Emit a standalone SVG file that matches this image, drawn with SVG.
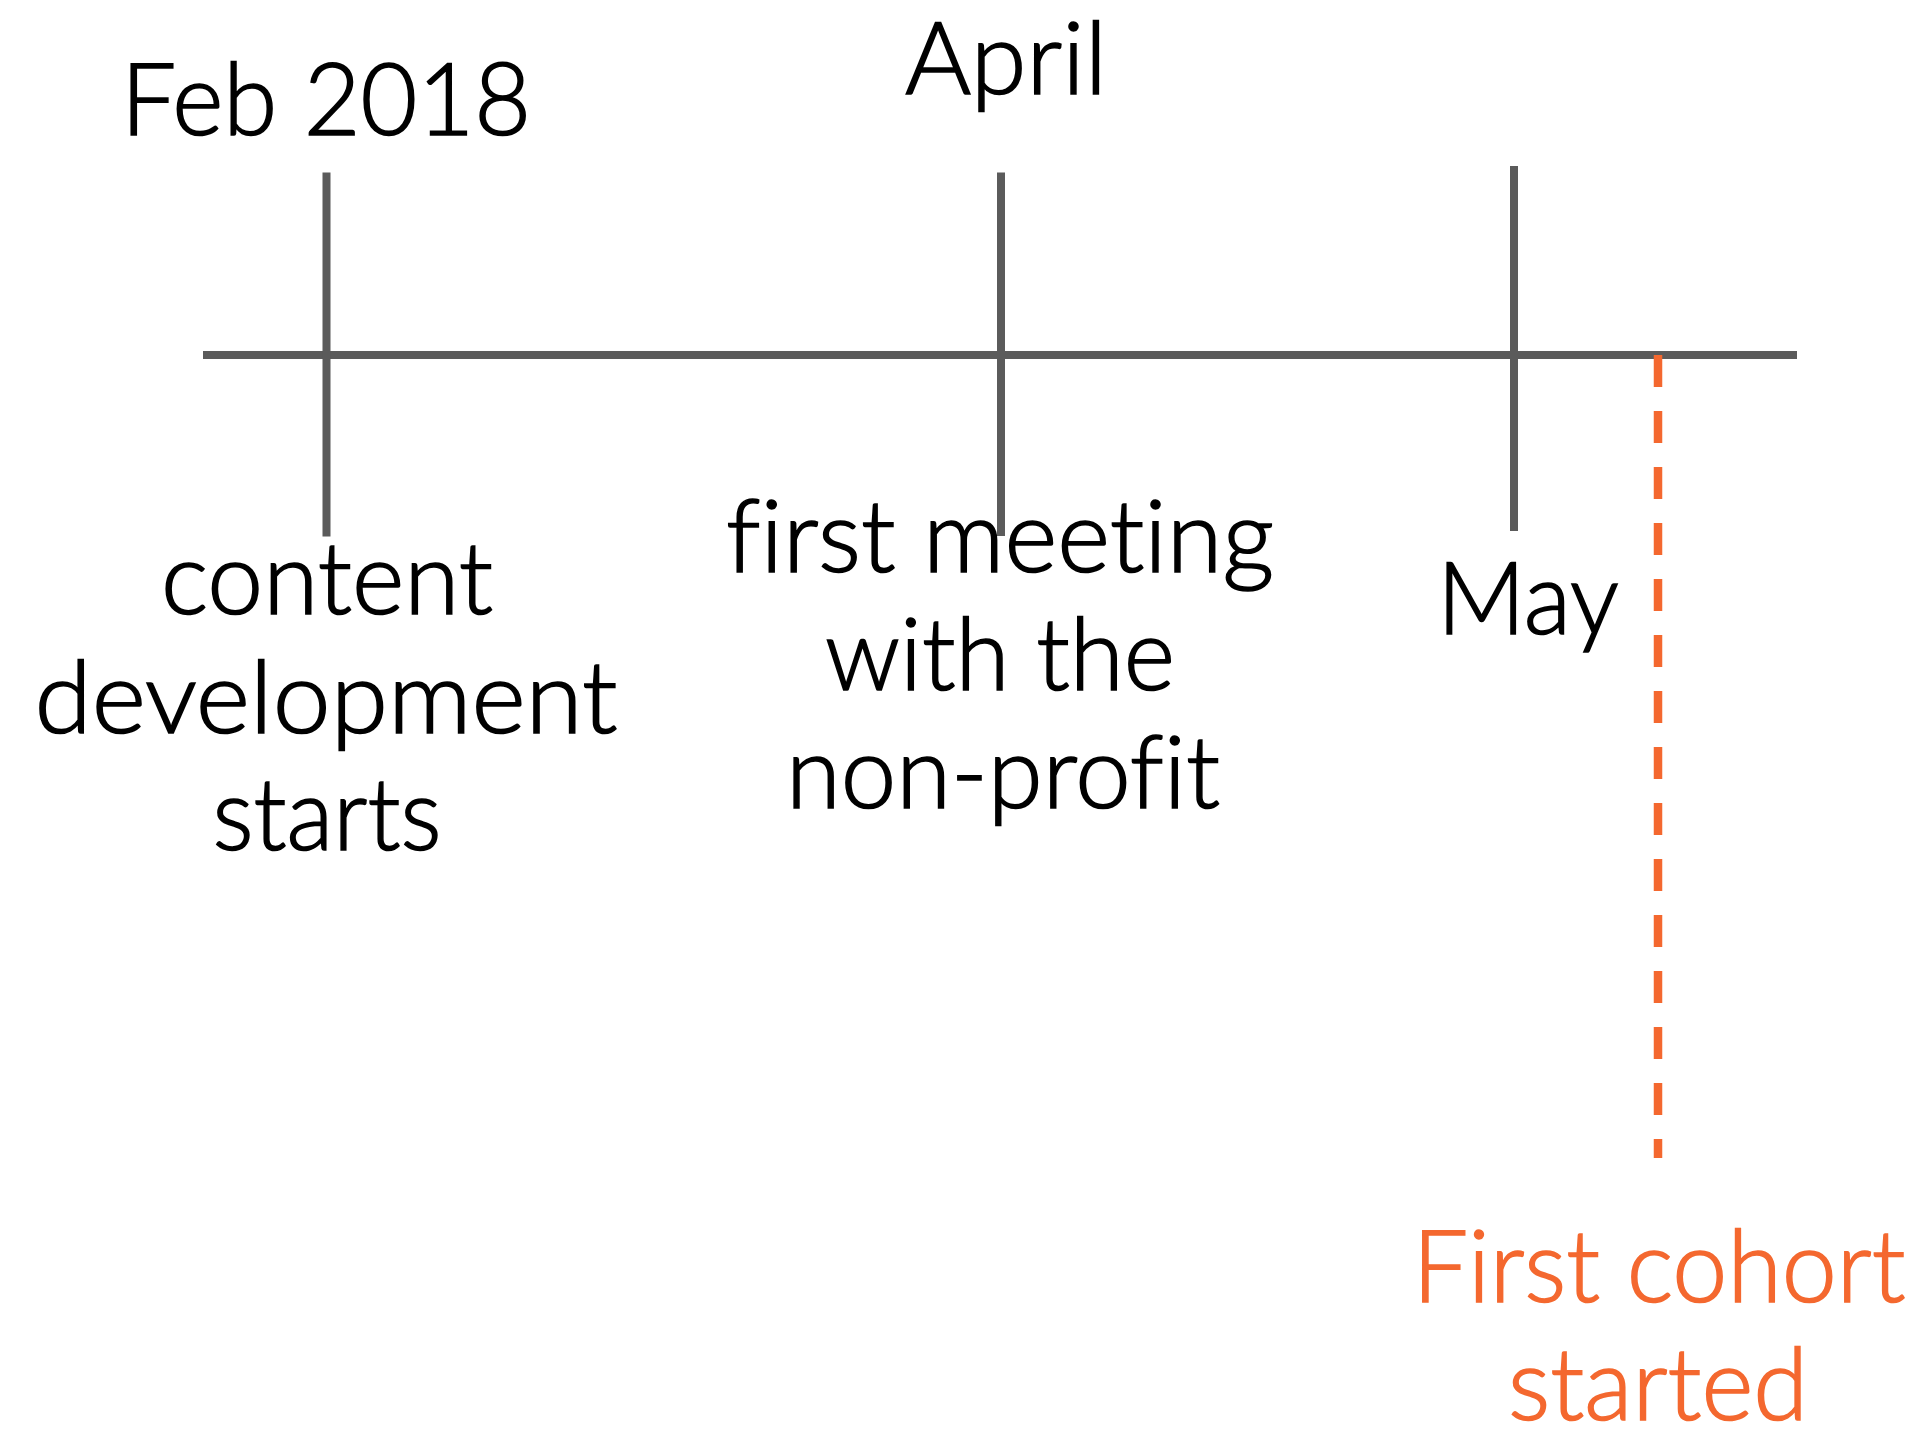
<svg xmlns="http://www.w3.org/2000/svg" width="1926" height="1434" viewBox="0 0 1926 1434">
<style>
.axis{stroke:#5b5b5b;stroke-width:8;fill:none}
.dash{stroke:#f4682f;stroke-width:8.5;stroke-dasharray:32 24;fill:none}
.t{font-family:Lato,"Liberation Sans",sans-serif;font-size:100px;font-weight:300;font-variant-ligatures:none;fill:#000;stroke:#000;stroke-width:1.6;text-anchor:middle}
.o{fill:#f4682f;stroke:#f4682f}
</style>
<rect width="1926" height="1434" fill="#fff"/>
<g id="connectors">
<line class="axis" x1="203" y1="355" x2="1797" y2="355"/>
<line class="axis" x1="326.5" y1="172.5" x2="326.5" y2="536.5"/>
<line class="axis" x1="1001" y1="172.5" x2="1001" y2="536"/>
<line class="axis" x1="1514" y1="166" x2="1514" y2="531"/>
<line class="dash" x1="1658" y1="355" x2="1658" y2="1158"/>
</g>
<g id="feb2018"><text class="t" x="326" y="135" textLength="410" lengthAdjust="spacingAndGlyphs">Feb 2018</text></g>
<g id="april"><text class="t" x="1006" y="93.5" textLength="202" lengthAdjust="spacingAndGlyphs">April</text></g>
<g id="may"><text class="t" x="1528" y="634" textLength="182" lengthAdjust="spacingAndGlyphs">May</text></g>
<g id="content-development">
<text class="t" x="327" y="614" textLength="332" lengthAdjust="spacingAndGlyphs">content</text>
<text class="t" x="326" y="733" textLength="583" lengthAdjust="spacingAndGlyphs">development</text>
<text class="t" x="327" y="850" textLength="229" lengthAdjust="spacingAndGlyphs">starts</text>
</g>
<g id="first-meeting">
<text class="t" x="1000" y="572" textLength="548" lengthAdjust="spacingAndGlyphs">first meeting</text>
<text class="t" x="1000" y="690" textLength="350" lengthAdjust="spacingAndGlyphs">with the</text>
<text class="t" x="1003" y="808" textLength="434" lengthAdjust="spacingAndGlyphs">non-profit</text>
</g>
<g id="first-cohort">
<text class="t o" x="1659" y="1302" textLength="493" lengthAdjust="spacingAndGlyphs">First cohort</text>
<text class="t o" x="1658" y="1420" textLength="300" lengthAdjust="spacingAndGlyphs">started</text>
</g>
</svg>
